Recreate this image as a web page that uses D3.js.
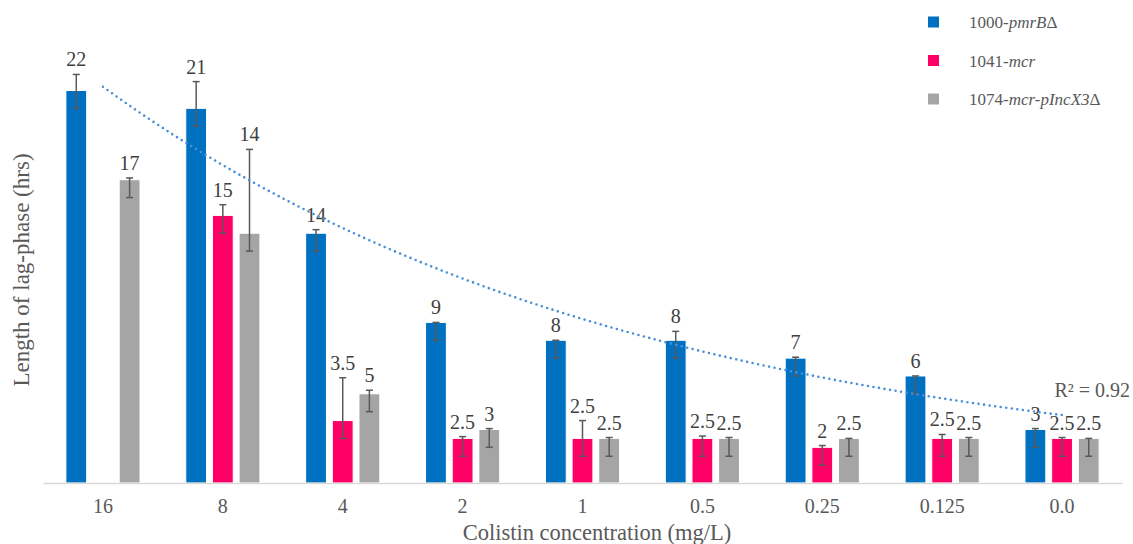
<!DOCTYPE html>
<html>
<head>
<meta charset="utf-8">
<script src="https://cdn.jsdelivr.net/npm/d3@7.9.0/dist/d3.min.js"></script>
<style>
  body { margin: 0; background: #fff; }
  svg { display: block; }
  svg text { font-family: 'Liberation Serif', 'DejaVu Serif', serif !important; }
</style>
</head>
<body>
<svg id="chart" width="1133" height="544"></svg>
<script>
// colistin concentrations (mg/L), one group per value
const concentrations = ['16', '8', '4', '2', '1', '0.5', '0.25', '0.125', '0.0'];

const seriesNames = ['pmrB', 'mcr', 'pIncX3'];

// lag-phase length (hrs) per strain
const pmrBValues   = [22, 21, 14, 9, 8, 8, 7, 6, 3];
const mcrValues    = [null, 15, 3.5, 2.5, 2.5, 2.5, 2, 2.5, 2.5];
const pIncX3Values = [17, 14, 5, 3, 2.5, 2.5, 2.5, 2.5, 2.5];

// error bars (upper / lower)
const pmrBErrUp     = [0.9, 1.5, 0.2, 0, 0, 0.5, 0.05, 0, 0.05];
const mcrErrUp      = [null, 0.6, 2.4, 0.1, 1.0, 0.13, 0.1, 0.22, 0.05];
const pIncX3ErrUp   = [0.1, 4.7, 0.2, 0.05, 0.05, 0.05, 0, 0.05, 0];
const pmrBErrDown   = [1, 1, 1, 1, 1, 1, 1, 1, 1];
const mcrErrDown    = [null, 1, 1, 1, 1, 1, 1, 1, 1];
const pIncX3ErrDown = [1, 1, 1, 1, 1, 1, 1, 1, 1];

const colors = { pmrB: '#0070C0', mcr: '#FF0066', pIncX3: '#A5A5A5' };

const width = 1133;
const height = 544;
const margin = { top: 37, right: 11, bottom: 61, left: 43 };

const values = { pmrB: pmrBValues, mcr: mcrValues, pIncX3: pIncX3Values };
const errUp = { pmrB: pmrBErrUp, mcr: mcrErrUp, pIncX3: pIncX3ErrUp };
const errDown = { pmrB: pmrBErrDown, mcr: mcrErrDown, pIncX3: pIncX3ErrDown };

const svg = d3.select('#chart');

const x0 = d3.scaleBand()
  .domain(concentrations)
  .range([margin.left, width - margin.right])
  .paddingInner(0)
  .paddingOuter(0);

const x1 = d3.scaleBand()
  .domain(seriesNames)
  .range([-40, 40])
  .paddingInner(0.22)
  .paddingOuter(0.11);

const y = d3.scaleLinear()
  .domain([0, 25])
  .range([height - margin.bottom, margin.top]);

// flatten into bar records
const bars = [];
concentrations.forEach((c, i) => {
  seriesNames.forEach((s) => {
    const v = values[s][i];
    if (v == null) return;
    bars.push({ conc: c, series: s, value: v, up: errUp[s][i], down: errDown[s][i] });
  });
});

const barX = (d) => x0(d.conc) + x0.bandwidth() / 2 + x1(d.series);
const barMid = (d) => barX(d) + x1.bandwidth() / 2;

// bars
svg.append('g')
  .selectAll('rect')
  .data(bars)
  .join('rect')
  .attr('x', barX)
  .attr('y', (d) => y(d.value))
  .attr('width', x1.bandwidth())
  .attr('height', (d) => y(0) - y(d.value))
  .attr('fill', (d) => colors[d.series])
  .attr('stroke', '#fff')
  .attr('stroke-width', 1);

// baseline
const xAxis = d3.axisBottom(x0).tickSize(0).tickPadding(16);
const gx = svg.append('g')
  .attr('transform', `translate(0, ${y(0)})`)
  .call(xAxis);
gx.select('.domain').attr('stroke', '#D9D9D9').attr('stroke-width', 1.5);
gx.selectAll('text')
  .attr('font-size', 20)
  .attr('fill', '#595959');

// error bars
const eb = svg.append('g').attr('stroke', '#595959').attr('stroke-width', 1.5);
eb.selectAll('line.v')
  .data(bars)
  .join('line')
  .attr('class', 'v')
  .attr('x1', barMid).attr('x2', barMid)
  .attr('y1', (d) => y(d.value + d.up))
  .attr('y2', (d) => y(d.value - d.down));
eb.selectAll('line.t')
  .data(bars)
  .join('line')
  .attr('class', 't')
  .attr('x1', (d) => barMid(d) - 3.5).attr('x2', (d) => barMid(d) + 3.5)
  .attr('y1', (d) => y(d.value + d.up))
  .attr('y2', (d) => y(d.value + d.up));
eb.selectAll('line.b')
  .data(bars)
  .join('line')
  .attr('class', 'b')
  .attr('x1', (d) => barMid(d) - 3.5).attr('x2', (d) => barMid(d) + 3.5)
  .attr('y1', (d) => y(d.value - d.down))
  .attr('y2', (d) => y(d.value - d.down));

// value labels
svg.append('g')
  .selectAll('text')
  .data(bars)
  .join('text')
  .attr('x', barMid)
  .attr('y', (d) => y(d.value + d.up) - 8)
  .attr('text-anchor', 'middle')
  .attr('font-size', 20)
  .attr('fill', '#404040')
  .text((d) => d.value);

// exponential trendline fitted to the pmrB series (least squares on ln y)
const pts = pmrBValues.map((v, i) => [i + 1, Math.log(v)]);
const mx = d3.mean(pts, (p) => p[0]);
const my = d3.mean(pts, (p) => p[1]);
const sxy = d3.sum(pts, (p) => (p[0] - mx) * (p[1] - my));
const sxx = d3.sum(pts, (p) => (p[0] - mx) ** 2);
const syy = d3.sum(pts, (p) => (p[1] - my) ** 2);
const b = sxy / sxx;
const a = Math.exp(my - b * mx);
const r2 = (sxy * sxy) / (sxx * syy);

const xc = d3.scaleLinear()
  .domain([1, concentrations.length])
  .range([x0(concentrations[0]) + x0.bandwidth() / 2,
          x0(concentrations[concentrations.length - 1]) + x0.bandwidth() / 2]);

const trend = d3.range(1, concentrations.length + 0.001, 0.1).map((t) => [t, a * Math.exp(b * t)]);
svg.append('path')
  .datum(trend)
  .attr('fill', 'none')
  .attr('stroke', '#4A90D9')
  .attr('stroke-width', 2.6)
  .attr('stroke-linecap', 'round')
  .attr('stroke-dasharray', '0 5.6')
  .attr('d', d3.line().x((p) => xc(p[0])).y((p) => y(p[1])));

svg.append('text')
  .attr('x', width - 3)
  .attr('y', 397)
  .attr('text-anchor', 'end')
  .attr('font-size', 20)
  .attr('fill', '#595959')
  .text(`R² = ${r2.toFixed(2)}`);

// axis titles
svg.append('text')
  .attr('x', 597)
  .attr('y', 540)
  .attr('text-anchor', 'middle')
  .attr('font-size', 22.5)
  .attr('fill', '#595959')
  .text('Colistin concentration (mg/L)');

svg.append('text')
  .attr('transform', 'translate(29, 270) rotate(-90)')
  .attr('text-anchor', 'middle')
  .attr('font-size', 23)
  .attr('fill', '#595959')
  .text('Length of lag-phase (hrs)');

// legend
const legendParts = {
  pmrB: [['1000-', false], ['pmrB', true], ['Δ', false]],
  mcr: [['1041-', false], ['mcr', true]],
  pIncX3: [['1074-', false], ['mcr-pIncX3', true], ['Δ', false]],
};
const legend = svg.append('g');
seriesNames.forEach((s, i) => {
  const cy = 22 + i * 38.5;
  legend.append('rect')
    .attr('x', 928).attr('y', cy - 5.5)
    .attr('width', 11).attr('height', 11)
    .attr('fill', colors[s]);
  const t = legend.append('text')
    .attr('x', 969).attr('y', cy + 6)
    .attr('font-size', 17)
    .attr('fill', '#595959');
  legendParts[s].forEach(([txt, it]) => {
    t.append('tspan').attr('font-style', it ? 'italic' : 'normal').text(txt);
  });
});
</script>
</body>
</html>
